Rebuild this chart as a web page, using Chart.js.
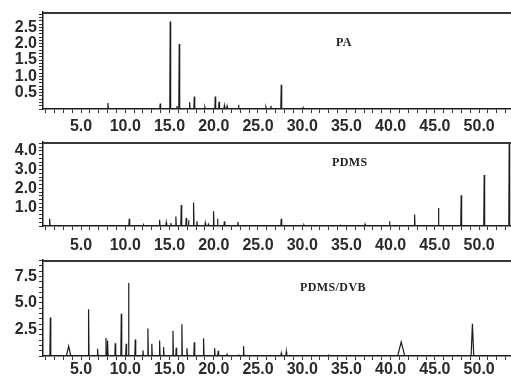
<!DOCTYPE html>
<html lang="en">
<head>
<meta charset="UTF-8">
<title>Chromatograms: PA, PDMS, PDMS/DVB</title>
<script src="https://cdn.jsdelivr.net/npm/chart.js@4.4.1/dist/chart.umd.min.js"></script>
<style>
  body { margin: 0; background: #fff; }
  #wrap { position: relative; width: 511px; height: 382px; overflow: hidden; }
  canvas { position: absolute; left: 0; }
  .tag { position: absolute; font: bold 12px "Liberation Serif", "DejaVu Serif", serif; color: #222; letter-spacing: 0.4px; }
</style>
</head>
<body>
<div id="wrap">
  <canvas id="pa" width="511" height="140" style="top:0"></canvas>
  <canvas id="pdms" width="511" height="118" style="top:140px"></canvas>
  <canvas id="dvb" width="511" height="124" style="top:258px"></canvas>
  <div class="tag" style="left:336px;top:35px">PA</div>
  <div class="tag" style="left:332px;top:155px">PDMS</div>
  <div class="tag" style="left:300px;top:280px">PDMS/DVB</div>
</div>
<script>
  // retention time (min) and peak height
  const paTimes = [8.04, 13.95, 15.08, 15.84, 16.1, 17.27, 17.8, 19.0, 20.17, 20.6, 21.2, 21.5, 22.8, 25.9, 26.46, 27.63, 30.1]
  const paHeights = [0.18, 0.17, 2.68, 0.09, 1.99, 0.21, 0.38, 0.05, 0.38, 0.22, 0.1, 0.08, 0.13, 0.05, 0.1, 0.74, 0.04]

  const pdmsTimes = [1.45, 10.45, 12.07, 13.88, 14.63, 15.16, 15.72, 16.33, 16.89, 17.15, 17.72, 18.1, 19.04, 19.4, 19.98, 20.43, 21.2, 22.73, 27.63, 30.2, 34.3, 37.1, 39.87, 42.7, 45.4, 47.97, 50.57, 53.4]
  const pdmsHeights = [0.39, 0.39, 0.05, 0.33, 0.18, 0.16, 0.51, 1.12, 0.42, 0.3, 1.25, 0.25, 0.16, 0.08, 0.79, 0.39, 0.25, 0.21, 0.39, 0.05, 0.04, 0.09, 0.25, 0.61, 0.96, 1.63, 2.72, 4.6]

  const dvbTimes = [1.53, 3.6, 5.85, 6.87, 7.82, 8.0, 8.87, 9.55, 10.1, 10.37, 11.13, 12.0, 12.56, 13.0, 13.88, 14.33, 15.39, 15.76, 16.4, 16.97, 17.8, 18.85, 20.1, 20.5, 21.5, 22.8, 23.37, 27.63, 28.2, 32.97, 41.19, 49.24]
  const dvbHeights = [3.62, 0.93, 4.4, 0.68, 1.7, 1.45, 1.2, 3.99, 1.15, 6.87, 1.55, 0.53, 2.6, 1.15, 1.45, 0.84, 2.38, 0.77, 3.0, 0.74, 1.3, 1.67, 0.74, 0.5, 0.15, 0.15, 0.93, 0.25, 0.4, 0.15, 1.33, 3.03]
  const dvbWidths = [0.05, 0.25, 0.05, 0.05, 0.05, 0.05, 0.05, 0.05, 0.05, 0.05, 0.05, 0.05, 0.05, 0.05, 0.05, 0.05, 0.05, 0.05, 0.05, 0.05, 0.05, 0.05, 0.05, 0.05, 0.05, 0.05, 0.05, 0.05, 0.05, 0.05, 0.4, 0.15]

  const xLabels = [5, 10, 15, 20, 25, 30, 35, 40, 45, 50]
  const paYLabels = [0.5, 1.0, 1.5, 2.0, 2.5]
  const pdmsYLabels = [1.0, 2.0, 3.0, 4.0]
  const dvbYLabels = [2.5, 5.0, 7.5]

  const X_MIN = 0.7
  const X_MAX = 53.6
  const INK = "#1c1c1c"
  const tickFont = { family: "'Liberation Sans', Arial, sans-serif", size: 16, weight: "bold" }

  const spikes = (times, heights, widths) => {
    const pts = [{ x: X_MIN, y: 0 }]
    times.forEach((t, i) => {
      const w = widths ? widths[i] : 0.05
      pts.push({ x: t - w, y: 0 }, { x: t, y: heights[i] }, { x: t + w, y: 0 })
    })
    pts.push({ x: X_MAX, y: 0 })
    return pts.sort((a, b) => a.x - b.x)
  }

  const steps = (from, to, step) => {
    const out = []
    for (let v = from; v <= to + 1e-9; v += step) out.push(Math.round(v * 100) / 100)
    return out
  }

  const topLine = {
    id: "topLine",
    afterDraw(chart) {
      const { ctx, chartArea } = chart
      ctx.save()
      ctx.strokeStyle = "#3a3a3a"
      ctx.lineWidth = 2
      ctx.beginPath()
      ctx.moveTo(chartArea.left, chartArea.top + 1)
      ctx.lineTo(chartArea.right, chartArea.top + 1)
      ctx.stroke()
      ctx.restore()
    }
  }

  const makePanel = (id, pts, yMax, yStep, yLabels, topPad, xAxisH, labelPad) => {
    const xTicks = steps(1, 53, 1)
    const yTicks = steps(0, yMax, yStep)
    return new Chart(document.getElementById(id), {
      type: "line",
      data: {
        datasets: [{
          data: pts,
          borderColor: INK,
          borderWidth: 1.2,
          pointRadius: 0,
          tension: 0,
          fill: false,
        }]
      },
      options: {
        responsive: false,
        animation: false,
        devicePixelRatio: 1,
        layout: { padding: { left: 0, right: 0, top: topPad, bottom: 0 } },
        plugins: { legend: { display: false }, tooltip: { enabled: false } },
        scales: {
          x: {
            type: "linear",
            min: X_MIN,
            max: X_MAX,
            afterBuildTicks: (s) => { s.ticks = xTicks.map(v => ({ value: v })) },
            afterFit: (s) => { s.height = xAxisH; s.paddingLeft = 0; s.paddingRight = 0 },
            grid: { drawOnChartArea: false, tickLength: 4, color: "#333" },
            border: { color: INK, width: 1.5 },
            ticks: {
              autoSkip: false,
              maxRotation: 0,
              padding: labelPad,
              color: "#2a2a2a",
              font: tickFont,
              callback: (v) => xLabels.includes(Math.round(v * 100) / 100) ? v.toFixed(1) : ""
            }
          },
          y: {
            type: "linear",
            min: 0,
            max: yMax,
            afterBuildTicks: (s) => { s.ticks = yTicks.map(v => ({ value: v })) },
            afterFit: (s) => { s.width = 43; s.paddingTop = 0; s.paddingBottom = 0 },
            grid: { drawOnChartArea: false, tickLength: 4, color: "#333" },
            border: { color: INK, width: 1.5 },
            ticks: {
              autoSkip: false,
              padding: 2,
              color: "#2a2a2a",
              font: tickFont,
              callback: (v) => yLabels.includes(Math.round(v * 100) / 100) ? v.toFixed(1) : ""
            }
          }
        }
      },
      plugins: [topLine]
    })
  }

  makePanel("pa", spikes(paTimes, paHeights), 2.97, 0.1, paYLabels, 12, 31, 4)
  makePanel("pdms", spikes(pdmsTimes, pdmsHeights), 4.47, 0.2, pdmsYLabels, 2, 32, 6)
  makePanel("dvb", spikes(dvbTimes, dvbHeights, dvbWidths), 9.05, 0.5, dvbYLabels, 2, 26, 0)
</script>
</body>
</html>
